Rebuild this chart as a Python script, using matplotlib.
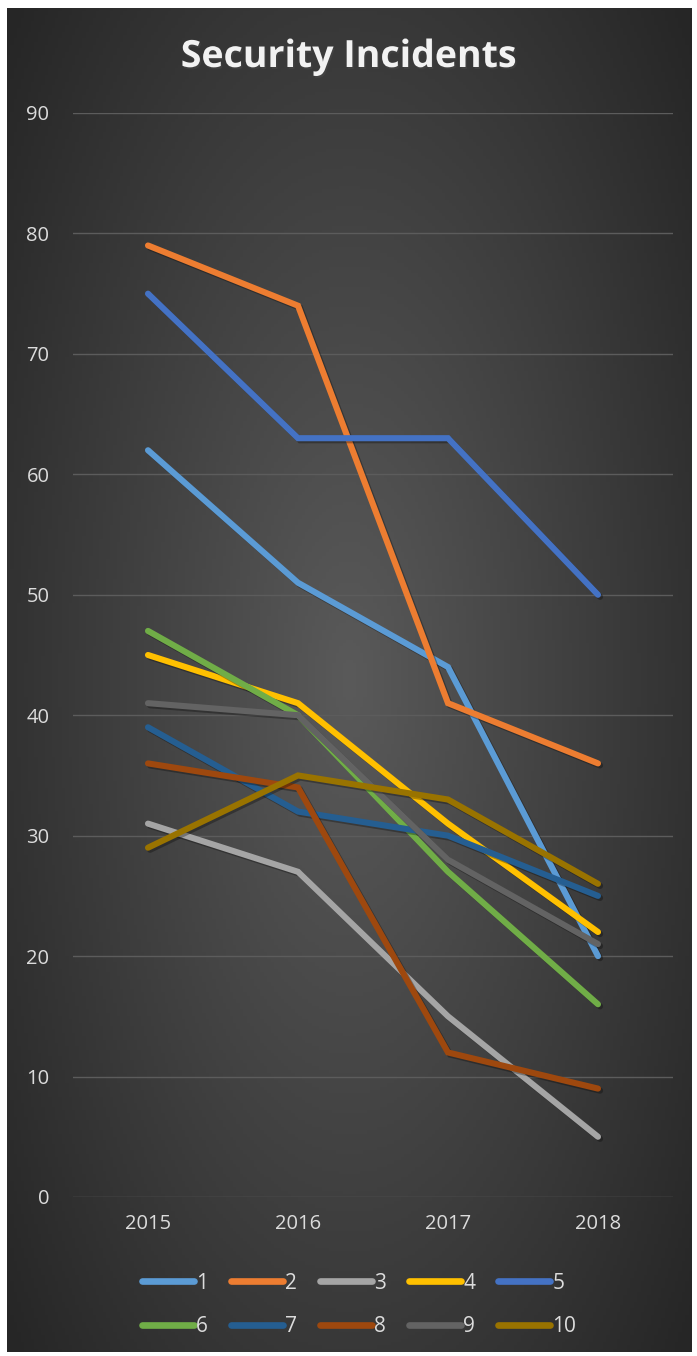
import numpy as np
import matplotlib.pyplot as plt
import matplotlib.patheffects as pe

years = ['2015', '2016', '2017', '2018']
s1 = [62, 51, 44, 20]
s2 = [79, 74, 41, 36]
s3 = [31, 27, 15, 5]
s4 = [45, 41, 31, 22]
s5 = [75, 63, 63, 50]
s6 = [47, 40, 27, 16]
s7 = [39, 32, 30, 25]
s8 = [36, 34, 12, 9]
s9 = [41, 40, 28, 21]
s10 = [29, 35, 33, 26]
series = [s1, s2, s3, s4, s5, s6, s7, s8, s9, s10]
names = ['1', '2', '3', '4', '5', '6', '7', '8', '9', '10']
colors = ['#5B9BD5', '#ED7D31', '#A5A5A5', '#FFC000', '#4472C4',
          '#70AD47', '#255E91', '#9E480E', '#636363', '#997300']

plt.rcParams['font.family'] = ['Open Sans', 'DejaVu Sans']

W, H = 697, 1356
fig = plt.figure(figsize=(W / 100, H / 100), dpi=100)
fig.patch.set_facecolor('white')

# radial gradient background of the chart area
bg = fig.add_axes([7 / W, 1 - 1352 / H, 685 / W, 1344 / H])
yy, xx = np.mgrid[-1:1:400j, -1:1:200j]
r = np.sqrt(xx ** 2 + (yy * 0.85) ** 2)
r = np.clip(r / 1.3, 0, 1)
c0 = np.array([0x5a, 0x5a, 0x5a]) / 255
c1 = np.array([0x26, 0x26, 0x26]) / 255
img = c0[None, None, :] * (1 - r[..., None]) + c1[None, None, :] * r[..., None]
bg.imshow(img, aspect='auto', extent=[0, 1, 0, 1])
bg.axis('off')

ax = fig.add_axes([73 / W, (H - 1197) / H, 600 / W, (1197 - 113) / H])
ax.set_facecolor('none')
x = np.arange(len(years))
lines = []
for vals, name, c in zip(series, names, colors):
    ln, = ax.plot(x, vals, color=c, lw=4.4, label=name, solid_capstyle='round',
                  solid_joinstyle='miter',
                  path_effects=[pe.SimpleLineShadow(offset=(1.5, -1.5), alpha=0.3),
                                pe.Normal()])
    lines.append(ln)

ax.set_xlim(-0.5, 3.5)
ax.set_ylim(0, 90)
ax.set_yticks(range(0, 91, 10))
ax.set_xticks(x)
ax.set_xticklabels(years)
ax.grid(axis='y', color='#5c5c5c', lw=1)
ax.set_axisbelow(True)
for sp in ax.spines.values():
    sp.set_visible(False)
ax.tick_params(length=0, colors='#dcdcdc', labelsize=14.5)
ax.tick_params(axis='y', pad=17)
ax.tick_params(axis='x', pad=12)

fig.text(0.5, 1 - 57 / H, 'Security Incidents', ha='center', va='center',
         color='#f2f2f2', fontsize=27, fontweight='bold',
         path_effects=[pe.withSimplePatchShadow(offset=(1, -1.5), alpha=0.5)])

# legend filled row by row (matplotlib fills columns first)
order = [0, 5, 1, 6, 2, 7, 3, 8, 4, 9]
leg = fig.legend([lines[i] for i in order], [names[i] for i in order],
                 loc='center', bbox_to_anchor=(0.515, 1 - 1305 / H), ncol=5,
                 frameon=False, fontsize=15, labelcolor='#dcdcdc',
                 handlelength=2.5, handletextpad=0.1, columnspacing=1.1,
                 labelspacing=1.1)
for h in leg.get_lines():
    h.set_path_effects([])
    h.set_linewidth(4.8)

fig.savefig('out.png', dpi=100, facecolor='white')
